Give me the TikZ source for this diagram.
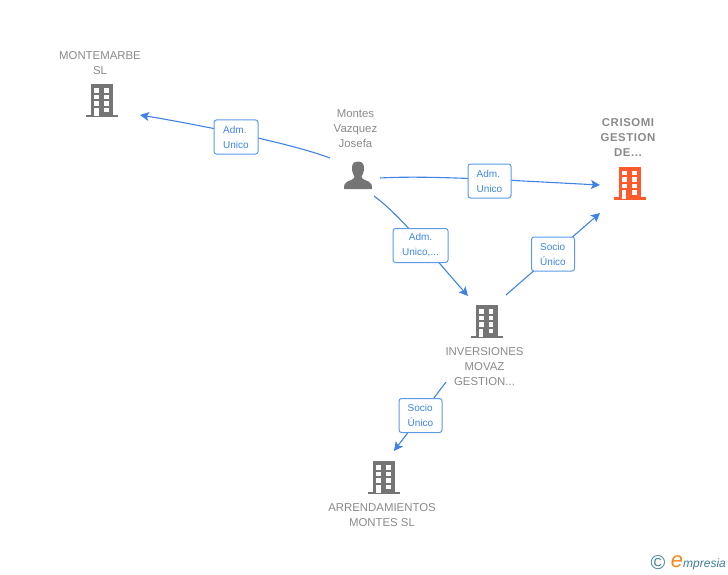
\documentclass[tikz,border=0pt]{standalone}
\usepackage{fontspec}
\setmainfont{Liberation Sans}
\usetikzlibrary{arrows.meta}
\definecolor{linkblue}{HTML}{3F84E5}
\definecolor{boxblue}{HTML}{5C9BE8}
\definecolor{namegrey}{HTML}{8A8A8A}
\definecolor{iconorange}{HTML}{FF5A2B}
\definecolor{icongrey}{HTML}{757575}
\definecolor{markteal}{HTML}{3F7F9A}
\definecolor{markorange}{HTML}{F08A1D}
\tikzset{
	building/.pic = {
		\fill[pic actions] (-11,-17) rectangle (11,15);
		\fill[pic actions] (-16,13.6) rectangle (16,16.4);
		\foreach \wy in {-13,-6.4,0} {
			\fill[white] (-7.6,\wy) rectangle +(4.8,4.8);
			\fill[white] (2,\wy) rectangle +(4.8,4.8);
		}
		\fill[white] (-7.6,6.8) rectangle (-3.4,15);
		\fill[white] (2,6.6) rectangle +(4.8,4.8);
	}
}
\begin{document}
\begin{tikzpicture}
		[x=1pt, y=-1pt,
		firm/.style = {text=namegrey, font=\fontsize{11.4}{15}\selectfont, align=center, inner sep=0},
		link/.style = {linkblue, line width=1.1pt, -{Stealth[length=9pt,width=9pt,inset=2pt]}},
		role/.style = {draw=boxblue, line width=1pt, fill=white, rounded corners=2.5pt, text=linkblue, font=\fontsize{10}{15}\selectfont, minimum height=34pt, inner sep=0, align=left}]
        \useasboundingbox (0,0) rectangle (728,575);

        \node[firm] (montemarbe) at (100,63) {MONTEMARBE\\SL};
        \node[firm] (josefa) at (355.5,128.7) {Montes\\Vazquez\\Josefa};
        \node[firm, text=icongrey!85, font=\fontsize{11.4}{15}\selectfont\bfseries, text width=70pt] (crisomi) at (628,138) {\addfontfeature{LetterSpace=5}CRISOMI\\GESTION\\DE...};
        \node[firm] (inversiones) at (484.5,366.5) {INVERSIONES\\MOVAZ\\GESTION...};
        \node[firm] (arrendamientos) at (382,515) {ARRENDAMIENTOS\\MONTES SL};

        \pic[fill=icongrey] at (102,101) {building};
        \pic[fill=iconorange] at (629.7,183.5) {building};
        \pic[fill=icongrey] at (486.5,322) {building};
        \pic[fill=icongrey] at (384,478) {building};

        % person
        \fill[icongrey] (358,161.5) .. controls (353,161.5) and (351.5,165) .. (352,170) .. controls (352.5,173) and (353.5,175) .. (354.5,176.5) .. controls (354.5,179) and (351,180) .. (347.5,181.5) .. controls (344.5,182.5) and (344,185) .. (344,189) -- (372,189) .. controls (372,185) and (371.5,182.5) .. (368.5,181.5) .. controls (365,180) and (361.5,179) .. (361.5,176.5) .. controls (362.5,175) and (363.5,173) .. (364,170) .. controls (364.5,165) and (363,161.5) .. (358,161.5) -- cycle;

        \coordinate (josefa-w) at (330,158);
        \coordinate (josefa-e) at (380,178);
        \coordinate (josefa-s) at (374,196);
        \coordinate (montemarbe-e) at (140,115);
        \coordinate (crisomi-w) at (600,185);
        \coordinate (crisomi-s) at (600,213);
        \coordinate (inversiones-n) at (468,296);
        \coordinate (inversiones-e) at (506,295);
        \coordinate (inversiones-s) at (446,382);
        \coordinate (arrendamientos-n) at (394,451);

        \draw[link] (josefa-w) .. controls (290,143) and (200,125) .. (montemarbe-e);
        \draw[link] (josefa-e) .. controls (430,175) and (520,181) .. (crisomi-w);
        \draw[link] (josefa-s) .. controls (400,215) and (430,253) .. (inversiones-n);
        \draw[link] (inversiones-e) -- (crisomi-s);
        \draw[link] (inversiones-s) -- (arrendamientos-n);

        \node[role, minimum width=44pt] (role1) at (236,137) {Adm.\\Unico};
        \node[role, minimum width=43pt] (role2) at (489.5,181) {Adm.\\Unico};
        \node[role, minimum width=55pt, align=center] (role3) at (420.5,245.5) {Adm.\\Unico,...};
        \node[role, minimum width=43pt] (role4) at (553,254) {Socio\\Único};
        \node[role, minimum width=43pt] (role5) at (420.5,415.5) {Socio\\Único};

        \node[text=markteal, font=\fontsize{20}{20}\selectfont, inner sep=0] (copyright) at (658,563) {©};
        \node[text=markorange, font=\fontsize{22}{22}\selectfont\itshape, inner sep=0] (logoe) at (677,562) {e};
        \node[text=markteal, font=\fontsize{12}{12}\selectfont\itshape, inner sep=0, anchor=west] (logotext) at (683,564) {mpresia};
	\end{tikzpicture}
\end{document}
